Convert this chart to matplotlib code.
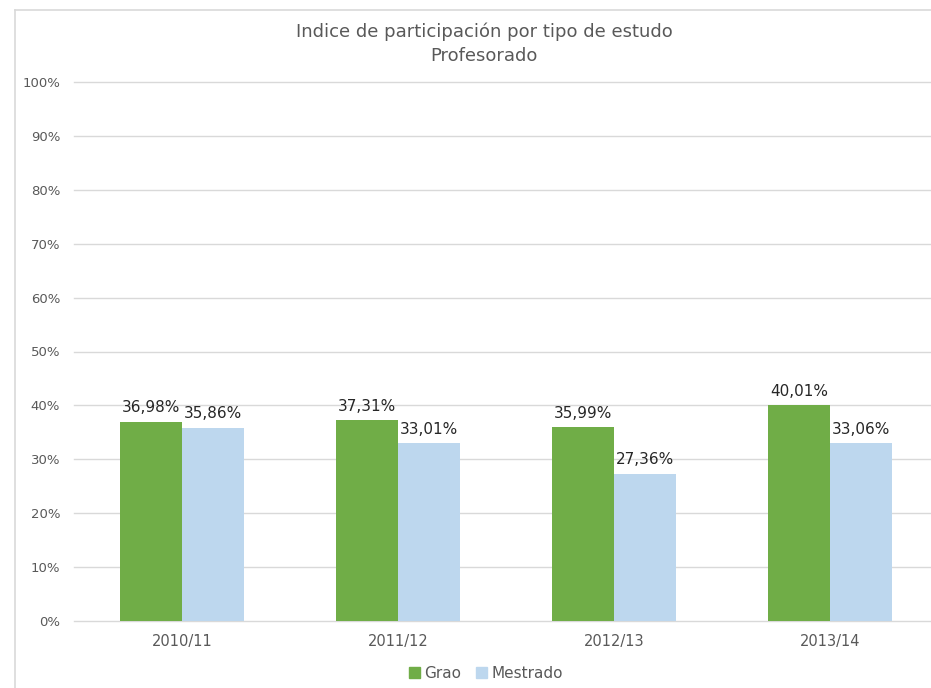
import numpy as np
import matplotlib.pyplot as plt
from matplotlib.lines import Line2D
from matplotlib.patches import Patch

cursos = ['2010/11', '2011/12', '2012/13', '2013/14']
grao = [36.98, 37.31, 35.99, 40.01]
mestrado = [35.86, 33.01, 27.36, 33.06]
yticks = [0, 10, 20, 30, 40, 50, 60, 70, 80, 90, 100]

c_grao = '#70AD47'
c_mest = '#BDD7EE'
gris = '#595959'
grid_c = '#D9D9D9'

W, H = 931, 688
fig = plt.figure(figsize=(W / 100, H / 100), dpi=100)

# chart border (cropped chart, only left/top visible)
fig.add_artist(Line2D([15 / W, 15 / W], [0, 1 - 10 / H], color=grid_c, lw=1.2))
fig.add_artist(Line2D([15 / W, 1], [1 - 10 / H, 1 - 10 / H], color=grid_c, lw=1.2))

ax = fig.add_axes([74 / W, 67 / H, 864 / W, 539 / H])

x = np.arange(len(cursos))
w = 0.287
b1 = ax.bar(x - w / 2, grao, w, color=c_grao, zorder=3)
b2 = ax.bar(x + w / 2, mestrado, w, color=c_mest, zorder=3)

for bars, vals in ((b1, grao), (b2, mestrado)):
    for r, v in zip(bars, vals):
        ax.annotate(f'{v:.2f}%'.replace('.', ','), (r.get_x() + r.get_width() / 2, v),
                    xytext=(0, 4.5), textcoords='offset points', ha='center', va='bottom',
                    fontsize=11, color='#262626')

ax.set_xlim(-0.5, 3.5)
ax.set_ylim(0, 100)
ax.set_yticks(yticks)
ax.set_yticklabels([f'{t}%' for t in yticks])
ax.set_xticks(x)
ax.set_xticklabels(cursos)
ax.tick_params(axis='y', length=0, pad=10, labelsize=9.5, labelcolor=gris)
ax.tick_params(axis='x', length=0, pad=9.5, labelsize=10.5, labelcolor=gris)
ax.grid(axis='y', color=grid_c, lw=1, zorder=0)
for gl in ax.get_ygridlines():
    gl.set_clip_on(False)
for s in ax.spines.values():
    s.set_visible(False)

fig.text(484 / W, 1 - 32 / H, 'Indice de participación por tipo de estudo',
         ha='center', va='center', fontsize=13, color=gris)
fig.text(484 / W, 1 - 56 / H, 'Profesorado', ha='center', va='center', fontsize=13, color=gris)

handles = [Patch(color=c_grao, label='Grao'), Patch(color=c_mest, label='Mestrado')]
leg = fig.legend(handles=handles, loc='center', bbox_to_anchor=(486 / W, 1 - 673 / H),
                 ncol=2, frameon=False, fontsize=11, handlelength=0.7, handleheight=0.7,
                 handletextpad=0.3, columnspacing=1.0)
for t in leg.get_texts():
    t.set_color(gris)

fig.savefig('out.png', dpi=100)
